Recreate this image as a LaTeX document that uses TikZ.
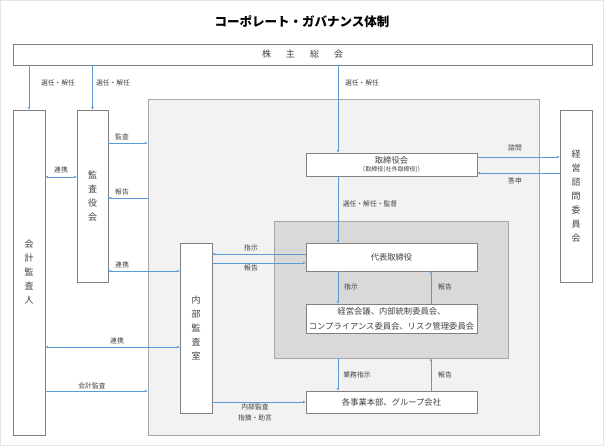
\documentclass[tikz,border=0pt]{standalone}
\usepackage{fontspec}
\setmainfont{Noto Sans CJK JP}
\usetikzlibrary{arrows.meta}
\definecolor{arrowblue}{HTML}{5B9BD5}
\definecolor{boxline}{HTML}{808080}
\definecolor{txt}{HTML}{404040}
\definecolor{regionA}{HTML}{F2F2F2}
\definecolor{regionB}{HTML}{D9D9D9}
\definecolor{regionline}{HTML}{A6A6A6}
\tikzset{
  box/.style={draw=boxline, line width=0.8pt, fill=white, inner sep=0pt, outer sep=0pt, text=txt, align=center},
  vbox/.style={box, font=\fontsize{9}{14}\selectfont},
  hbox/.style={box, font=\fontsize{8.3}{15}\selectfont},
  region/.style={draw=regionline, line width=0.7pt, inner sep=0pt, outer sep=0pt},
  arr/.style={draw=arrowblue, line width=0.5pt, -{Latex[length=3pt,width=2.4pt]}},
  darr/.style={draw=arrowblue, line width=0.5pt, {Latex[length=3pt,width=2.4pt]}-{Latex[length=3pt,width=2.4pt]}},
  lbl/.style={text=txt, font=\fontsize{6.8}{8}\selectfont, inner sep=0pt}
}
\begin{document}
\begin{tikzpicture}[x=1pt,y=-1pt]
\useasboundingbox (0,0) rectangle (604,446);
\draw[draw=black!10, line width=0.5pt] (0.5,0.5) rectangle (603.5,445.5);
% title
\node[font=\fontsize{12.5}{14}\selectfont\bfseries] (title) at (302,22) {コーポレート・ガバナンス体制};
% regions
\node[region, fill=regionA, minimum width=391pt, minimum height=336pt] (exec) at (343.5,267) {};
\node[region, fill=regionB, minimum width=234pt, minimum height=137pt] (inner) at (391,289.5) {};
% boxes
\node[box, font=\fontsize{9}{10}\selectfont, minimum width=579pt, minimum height=21pt] (kabu) at (302.5,54.5) {株\hspace{15pt}主\hspace{15pt}総\hspace{15pt}会};
\node[vbox, minimum width=32pt, minimum height=325pt] (kaikei) at (29,272.5) {会\\計\\監\\査\\人};
\node[vbox, minimum width=31pt, minimum height=172pt] (kansa) at (92.5,196) {監\\査\\役\\会};
\node[vbox, minimum width=32pt, minimum height=172pt] (shimon) at (576,196) {経\\営\\諮\\問\\委\\員\\会};
\node[vbox, minimum width=32pt, minimum height=170pt] (naibu) at (196,328) {内\\部\\監\\査\\室};
\node[box, font=\fontsize{8.3}{10}\selectfont, minimum width=171pt, minimum height=23pt] (torishimari) at (391.5,164.5) {取締役会\\[-1.5pt]{\fontsize{6}{7}\selectfont （取締役(社外取締役)）}};
\node[hbox, minimum width=171pt, minimum height=28pt] (daihyo) at (391.5,257) {代表取締役};
\node[hbox, minimum width=171pt, minimum height=29pt] (kaigi) at (391.5,318.5) {経営会議、内部統制委員会、\\コンプライアンス委員会、リスク管理委員会};
\node[hbox, minimum width=171pt, minimum height=22pt] (jigyo) at (391.5,402) {各事業本部、グループ会社};
% arrows from shareholders
\draw[arr] (kaikei.north |- kabu.south) -- (kaikei.north);
\node[lbl] (l1) at (58,83) {選任・解任};
\draw[arr] (kansa.north |- kabu.south) -- (kansa.north);
\node[lbl] (l2) at (113,83) {選任・解任};
\draw[arr] (kabu.south -| 338,0) -- (torishimari.north -| 338,0);
\node[lbl] (l3) at (362,83) {選任・解任};
% audit board
\draw[arr] (kansa.east |- 0,143) -- (exec.west |- 0,143);
\node[lbl] (l4) at (122,137) {監査};
\draw[arr] (exec.west |- 0,198) -- (kansa.east |- 0,198);
\node[lbl] (l5) at (122,192) {報告};
\draw[darr] (kaikei.east |- 0,177) -- (kansa.west |- 0,177);
\node[lbl] (l6) at (61,170) {連携};
\draw[darr] (kansa.east |- 0,271) -- (naibu.west |- 0,271);
\node[lbl] (l7) at (122,265) {連携};
\draw[darr] (kaikei.east |- 0,347) -- (naibu.west |- 0,347);
\node[lbl] (l8) at (117,341) {連携};
\draw[arr] (kaikei.east |- 0,391) -- (exec.west |- 0,391);
\node[lbl] (l9) at (92,386) {会計監査};
% advisory committee
\draw[arr] (torishimari.east |- 0,157) -- (shimon.west |- 0,157);
\node[lbl] (l10) at (515,148) {諮問};
\draw[arr] (shimon.west |- 0,173) -- (torishimari.east |- 0,173);
\node[lbl] (l11) at (515,181) {答申};
% board to representative
\draw[arr] (torishimari.south -| 338,0) -- (daihyo.north -| 338,0);
\node[lbl] (l12) at (370,204) {選任・解任・監督};
% representative and internal audit
\draw[arr] (daihyo.west |- 0,254) -- (naibu.east |- 0,254);
\node[lbl] (l13) at (251,248) {指示};
\draw[arr] (naibu.east |- 0,263) -- (daihyo.west |- 0,263);
\node[lbl] (l14) at (251,268) {報告};
% inside inner region
\draw[arr] (daihyo.south -| 338,0) -- (kaigi.north -| 338,0);
\node[lbl] (l15) at (351,287) {指示};
\draw[arr] (kaigi.north -| 431,0) -- (daihyo.south -| 431,0);
\node[lbl] (l16) at (445,287) {報告};
% to business units
\draw[arr] (inner.south -| 338,0) -- (jigyo.north -| 338,0);
\node[lbl] (l17) at (357,375) {業務指示};
\draw[arr] (jigyo.north -| 431,0) -- (inner.south -| 431,0);
\node[lbl] (l18) at (445,375) {報告};
\draw[arr] (naibu.east |- 0,402) -- (jigyo.west |- 0,402);
\node[lbl] (l19) at (255,407) {内部監査};
\node[lbl] (l20) at (255,418) {指摘・助言};
\end{tikzpicture}
\end{document}
